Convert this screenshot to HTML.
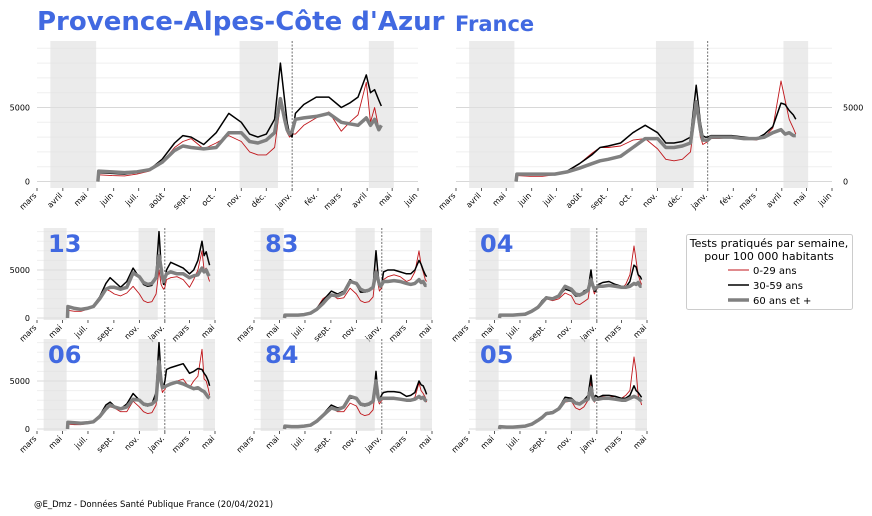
<!DOCTYPE html>
<html><head><meta charset="utf-8"><style>
html,body{margin:0;padding:0;background:#fff}
svg{display:block;font-family:"DejaVu Sans","Liberation Sans",sans-serif}
</style></head><body>
<svg id="chart" width="872" height="516" viewBox="0 0 872 516" xmlns="http://www.w3.org/2000/svg">
<text x="37" y="30" font-size="26" font-weight="bold" fill="#4169e1">Provence-Alpes-Côte d'Azur</text>
<text x="455" y="31" font-size="21" font-weight="bold" fill="#4169e1">France</text>
<g>
<rect x="686.5" y="234.5" width="166" height="75" rx="2" fill="#fff" stroke="#ccc"/>
<text x="769" y="247" font-size="11" text-anchor="middle">Tests pratiqués par semaine,</text>
<text x="769" y="260" font-size="11" text-anchor="middle">pour 100 000 habitants</text>
<line x1="728" y1="270" x2="749" y2="270" stroke="#c0161b" stroke-width="1"/>
<text x="753" y="274" font-size="10">0-29 ans</text>
<line x1="728" y1="285" x2="749" y2="285" stroke="#000" stroke-width="1.6"/>
<text x="753" y="289" font-size="10">30-59 ans</text>
<line x1="728" y1="300" x2="749" y2="300" stroke="#808080" stroke-width="3.5"/>
<text x="753" y="304" font-size="10">60 ans et +</text>
</g>
<text x="34" y="507" font-size="8.5">@E_Dmz - Données Santé Publique France (20/04/2021)</text>
</svg>
<script>
// days since 2020-03-01
const dates=[73,74,90,105,120,135,150,165,175,185,200,215,230,245,255,265,275,285,292,297,300,303,306,310,320,335,350,365,375,385,395,400,405,410,413];
const lockdowns=[[16,71],[243,289],[398,428]];
const newYear=306;
const monthTicksBig=[0,31,61,92,122,153,184,214,245,275,306,337,365,396,426,457];
const monthLabelsBig=["mars","avril","mai","juin","juil.","août","sept.","oct.","nov.","déc.","janv.","fév.","mars","avril","mai","juin"];
const monthTicksSmall=[0,61,122,184,245,306,365,426];
const monthLabelsSmall=["mars","mai","juil.","sept.","nov.","janv.","mars","mai"];
const yTicks=[0,5000];

const pacaYoung=[0,450,400,380,500,700,1300,2300,2700,2900,2200,2600,3100,2700,2000,1800,1800,2300,5200,4000,3300,3000,3200,3200,3800,4300,4700,3400,4000,4500,6700,4000,5000,3600,3700];
const pacaMid=[0,600,550,500,600,800,1500,2600,3100,3000,2500,3300,4600,4000,3200,3000,3200,4200,8000,5500,4000,3200,3000,4600,5200,5700,5700,5000,5300,5700,7200,6000,6200,5500,5100];
const pacaOld=[0,700,650,600,650,800,1300,2100,2400,2300,2200,2300,3300,3300,2700,2600,2800,3300,5600,4200,3500,3200,3400,4200,4300,4400,4600,4000,3900,3800,4300,3800,4200,3500,3800];

const frYoung=[0,400,350,350,450,650,1200,1900,2300,2300,2400,2800,2900,2200,1500,1400,1500,2000,5000,3000,2500,2600,2700,2900,2900,3000,2900,2800,3000,3600,6800,5500,4200,3600,3200];
const frMid=[0,500,450,450,500,700,1200,1800,2300,2400,2600,3300,3800,3300,2600,2600,2700,3000,6500,4000,3100,3000,3000,3100,3100,3100,3000,2900,3200,3700,5300,5200,4800,4500,4200];
const frOld=[0,500,500,500,500,650,900,1200,1400,1500,1700,2300,2900,2900,2300,2300,2400,2600,5400,3500,2800,2800,2800,3000,3000,3000,2900,2900,3000,3300,3500,3200,3300,3100,3100];

const d13Young=[0,800,700,700,900,1200,2000,3000,2800,2500,2300,2600,3300,2500,1800,1600,1700,2500,5000,3500,3200,3000,3200,4000,4200,4300,4000,3200,4000,5000,7000,5000,5200,4200,3800];
const d13Mid=[0,1100,1000,900,1000,1300,2200,3600,4200,3800,3200,3800,5200,4200,3500,3300,3400,4500,9000,5500,4000,3500,3800,5000,5800,5500,5200,4600,5000,6000,8000,6500,6900,6000,5500];
const d13Old=[0,1200,1000,900,1000,1200,2000,3000,3200,3200,3000,3200,4700,4300,3700,3500,3600,4200,6500,5200,4200,3800,4200,4600,4800,4600,4600,4200,4400,4500,5200,4800,5000,4500,4600];

const d83Young=[0,250,250,250,300,450,1000,2000,2300,2500,2000,2100,3100,2500,1800,1600,1700,2200,5000,3500,2800,3000,3200,4000,4300,4500,4300,3800,4000,4800,7000,5500,4800,4000,3800];
const d83Mid=[0,300,300,300,350,500,1000,1800,2300,2800,2500,2800,4000,3500,2700,2700,2800,3300,7000,4500,3500,3200,3600,4800,5000,5000,4800,4600,4600,5000,6000,5600,5000,4500,4300];
const d83Old=[0,300,300,300,350,500,900,1500,2000,2400,2300,2600,3800,3600,3000,2800,2900,3200,4800,4000,3500,3300,3500,3800,3800,3900,3800,3600,3500,3600,4000,3700,3800,3400,3400];

const d04Young=[0,250,250,250,300,400,700,1200,1600,2000,1800,2000,2600,2300,1500,1400,1700,2000,4000,3000,2500,2800,3000,3300,3400,3500,3300,3100,3500,4500,7500,6000,4500,3800,3500];
const d04Mid=[0,300,300,300,350,500,800,1200,1800,2200,2000,2300,3000,2800,2300,2300,2800,3000,5000,3200,2800,2800,3200,3500,3700,3800,3500,3300,3200,3800,5500,5300,4500,4300,4000];
const d04Old=[0,300,300,300,350,400,700,1100,1600,2100,2000,2300,3300,3000,2500,2400,2600,2900,4000,3300,3000,3100,3200,3300,3300,3400,3300,3200,3200,3300,3600,3500,3700,3300,3300];

const d06Young=[0,500,450,450,550,700,1200,2100,2300,2200,1800,1800,2900,2300,1800,1600,1700,2500,6500,4500,3800,4000,4100,4500,4600,5000,5200,4300,5000,5500,8300,5200,5000,4200,3500];
const d06Mid=[0,700,650,600,650,800,1400,2500,2800,2400,2100,2600,3700,3000,2500,2400,2600,3800,9000,5500,4300,4400,5000,6200,6400,6600,6800,5800,6000,6300,6200,5800,5500,5000,4500];
const d06Old=[0,700,650,600,650,750,1300,2100,2500,2300,2100,2300,3100,3000,2600,2500,2600,3000,7000,5000,4300,4400,4400,4500,4700,4900,4700,4400,4200,4300,4000,3900,3600,3300,3200];

const d84Young=[0,250,200,200,250,400,700,1400,1800,2200,1800,1800,2700,2400,1600,1400,1500,2000,4500,3000,2600,2800,3000,3100,3200,3200,3200,2900,3000,3300,4800,4000,3700,3300,2800];
const d84Mid=[0,300,250,250,300,450,800,1500,2000,2500,2200,2300,3200,3200,2500,2400,2500,2800,6000,3500,3200,3300,3600,3800,3900,3900,3800,3400,3500,3800,5000,4600,4500,4000,3600];
const d84Old=[0,300,250,250,300,400,800,1400,1800,2200,2000,2300,3400,3200,2600,2500,2600,2900,5000,3300,3000,3100,3200,3200,3200,3200,3100,3000,3000,3100,3400,3200,3300,3000,2900];

const d05Young=[0,200,200,200,250,300,500,900,1200,1500,1600,2000,2800,2900,2200,2000,2300,3000,5000,3000,2800,3000,3100,3200,3400,3300,3400,3200,3500,4000,7500,6000,3500,3000,2500];
const d05Mid=[0,250,200,200,250,300,500,900,1300,1700,1800,2200,3300,3200,2800,2700,3000,3500,5600,3500,3300,3500,3400,3300,3500,3500,3400,3200,3200,3500,4500,4000,3800,3500,3300];
const d05Old=[0,250,200,200,250,300,500,900,1200,1600,1700,2100,3000,3000,2700,2600,2900,3100,4300,3200,3000,3100,3100,3100,3200,3200,3100,3000,3000,3200,3400,3300,3200,3000,3100];

const NS="http://www.w3.org/2000/svg";
const svg=document.getElementById('chart');
function mk(tag,attrs,parent){const e=document.createElementNS(NS,tag);for(const k in attrs)e.setAttribute(k,attrs[k]);(parent||svg).appendChild(e);return e;}

const panels=[
 {name:'paca',x0:37,span:381,days:457,y0:181.5,k:0.0148,top:41,bot:188,ticks:monthTicksBig,labels:monthLabelsBig,ylab:'left',s:[pacaYoung,pacaMid,pacaOld]},
 {name:'france',x0:456,span:376,days:457,y0:181.5,k:0.0148,top:41,bot:188,ticks:monthTicksBig,labels:monthLabelsBig,ylab:'right',s:[frYoung,frMid,frOld],label:null},
 {name:'dep-13',x0:37,span:178,days:426,y0:318,k:0.0096,top:228,bot:320,ticks:monthTicksSmall,labels:monthLabelsSmall,ylab:'left',s:[d13Young,d13Mid,d13Old],label:'13'},
 {name:'dep-83',x0:254,span:178,days:426,y0:318,k:0.0096,top:228,bot:320,ticks:monthTicksSmall,labels:monthLabelsSmall,ylab:null,s:[d83Young,d83Mid,d83Old],label:'83'},
 {name:'dep-04',x0:469,span:178,days:426,y0:318,k:0.0096,top:228,bot:320,ticks:monthTicksSmall,labels:monthLabelsSmall,ylab:null,s:[d04Young,d04Mid,d04Old],label:'04'},
 {name:'dep-06',x0:37,span:178,days:426,y0:429,k:0.0096,top:339,bot:431,ticks:monthTicksSmall,labels:monthLabelsSmall,ylab:'left',s:[d06Young,d06Mid,d06Old],label:'06'},
 {name:'dep-84',x0:254,span:178,days:426,y0:429,k:0.0096,top:339,bot:431,ticks:monthTicksSmall,labels:monthLabelsSmall,ylab:null,s:[d84Young,d84Mid,d84Old],label:'84'},
 {name:'dep-05',x0:469,span:178,days:426,y0:429,k:0.0096,top:339,bot:431,ticks:monthTicksSmall,labels:monthLabelsSmall,ylab:null,s:[d05Young,d05Mid,d05Old],label:'05'}
];
const colors=['#c0161b','#000','#808080'];
const widths=[0.9,1.5,3.5];
const snames=['series-0-29','series-30-59','series-60-plus'];

panels.forEach(p=>{
 const xs=d=>p.x0+d*p.span/p.days;
 const ys=v=>p.y0-v*p.k;
 const g=mk('g',{});
 
 
 const xEnd=xs(p.days);
 for(let v=0;v*p.k<=p.y0-p.top+1;v+=1000){
  const ln=mk('line',{x1:p.x0,x2:xEnd,y1:ys(v),y2:ys(v),stroke:(v%5000===0)?'#d8d8d8':'#efefef','stroke-width':1},g);
  
  
 }
 lockdowns.forEach(l=>{
  const r=mk('rect',{x:xs(l[0]),y:p.top,width:xs(Math.min(l[1],p.days))-xs(l[0]),height:p.bot-p.top,fill:'#e0e0e0','fill-opacity':0.65},g);
  
  
 });
 const nl=mk('line',{x1:xs(newYear),x2:xs(newYear),y1:p.top,y2:p.bot,stroke:'#333','stroke-width':0.7,'stroke-dasharray':'2,1.5'},g);
 
 
 p.ticks.forEach((t,i)=>{
  const x=xs(t);
  mk('line',{x1:x,x2:x,y1:p.bot,y2:p.bot+3,stroke:'#333','stroke-width':0.8},g);
  const tx=mk('text',{x:x,y:p.bot+8,'font-size':8,'text-anchor':'end',transform:`rotate(-45 ${x} ${p.bot+8})`},g);
  tx.textContent=p.labels[i];
  
  
 });
 if(p.ylab){
  yTicks.forEach(v=>{
   const tx=mk('text',{x:p.ylab==='left'?30:843,y:ys(v)+3,'font-size':8,'text-anchor':p.ylab==='left'?'end':'start'},g);
   tx.textContent=v;
   
   
  });
 }
 p.s.forEach((arr,k)=>{
  const d=arr.map((v,i)=>(i?'L':'M')+xs(dates[i]).toFixed(1)+','+ys(v).toFixed(1)).join('');
  const path=mk('path',{d:d,fill:'none',stroke:colors[k],'stroke-width':widths[k],'stroke-linejoin':'round'},g);
  
  
 });
 if(p.label){
  const tx=mk('text',{x:p.x0+11,y:p.top+24,'font-size':24,'font-weight':'bold',fill:'#4169e1'},g);
  tx.textContent=p.label;
  
  
 }
});
</script>
</body></html>
